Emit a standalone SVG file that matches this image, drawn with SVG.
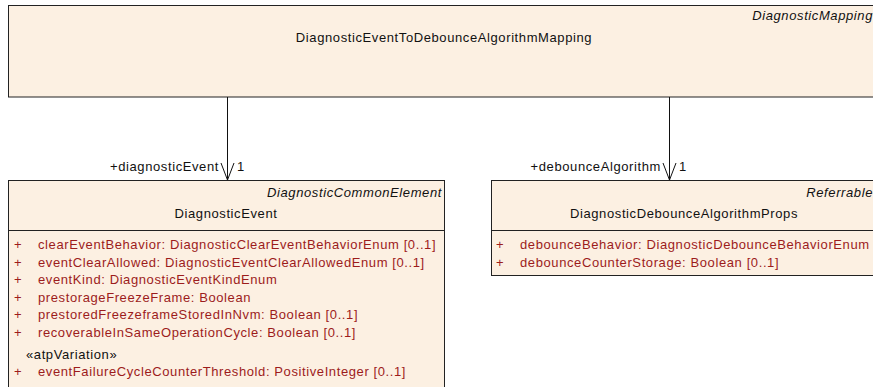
<svg xmlns="http://www.w3.org/2000/svg" width="873" height="387" viewBox="0 0 873 387">
<style>
text{font-family:"Liberation Sans",Arial,sans-serif;font-size:13px;letter-spacing:0.6px;fill:#111}
.st{font-style:italic;text-anchor:end}
.nm{text-anchor:middle}
.at{fill:#9c1c1c}
.box{fill:#fcf0e2;stroke:#222;stroke-width:1}
.sep{stroke:#222;stroke-width:1}
.conn line,.conn polyline{stroke:#111;stroke-width:1;fill:none}
</style>
<rect width="873" height="387" fill="#fff"/>
<g id="DiagnosticEventToDebounceAlgorithmMapping">
<rect class="box" x="8.5" y="5.5" width="872" height="91.5"/>
<text class="st" x="873" y="20">DiagnosticMapping</text>
<text class="nm" x="444" y="42">DiagnosticEventToDebounceAlgorithmMapping</text>
</g>
<g id="DiagnosticEvent">
<rect class="box" x="8.5" y="180.5" width="436" height="220"/>
<line class="sep" x1="8.5" y1="230.5" x2="444.5" y2="230.5"/>
<text class="st" x="442" y="197">DiagnosticCommonElement</text>
<text class="nm" x="226" y="218">DiagnosticEvent</text>
<text class="at" x="14" y="249">+</text><text class="at" x="38" y="249">clearEventBehavior: DiagnosticClearEventBehaviorEnum [0..1]</text>
<text class="at" x="14" y="266.5">+</text><text class="at" x="38" y="266.5">eventClearAllowed: DiagnosticEventClearAllowedEnum [0..1]</text>
<text class="at" x="14" y="284">+</text><text class="at" x="38" y="284">eventKind: DiagnosticEventKindEnum</text>
<text class="at" x="14" y="301.5">+</text><text class="at" x="38" y="301.5">prestorageFreezeFrame: Boolean</text>
<text class="at" x="14" y="319">+</text><text class="at" x="38" y="319">prestoredFreezeframeStoredInNvm: Boolean [0..1]</text>
<text class="at" x="14" y="336.5">+</text><text class="at" x="38" y="336.5">recoverableInSameOperationCycle: Boolean [0..1]</text>
<text x="26" y="358.5">«atpVariation»</text>
<text class="at" x="14" y="375.5">+</text><text class="at" x="38" y="375.5">eventFailureCycleCounterThreshold: PositiveInteger [0..1]</text>
</g>
<g id="DiagnosticDebounceAlgorithmProps">
<rect class="box" x="491.5" y="180.5" width="386" height="95"/>
<line class="sep" x1="491.5" y1="230.5" x2="877.5" y2="230.5"/>
<text class="st" x="873" y="197">Referrable</text>
<text class="nm" x="684" y="218">DiagnosticDebounceAlgorithmProps</text>
<text class="at" x="496" y="249">+</text><text class="at" x="520" y="249">debounceBehavior: DiagnosticDebounceBehaviorEnum</text>
<text class="at" x="496" y="266.5">+</text><text class="at" x="520" y="266.5">debounceCounterStorage: Boolean [0..1]</text>
</g>
<g id="connectors" class="conn">
<line x1="227.5" y1="97" x2="227.5" y2="180"/>
<polyline points="221,163 227.5,180 234,163"/>
<line x1="669.5" y1="97" x2="669.5" y2="180"/>
<polyline points="663,163 669.5,180 676,163"/>
<text x="219" y="171" style="text-anchor:end">+diagnosticEvent</text>
<text x="237" y="171">1</text>
<text x="661" y="171" style="text-anchor:end">+debounceAlgorithm</text>
<text x="679" y="171">1</text>
</g>
</svg>
